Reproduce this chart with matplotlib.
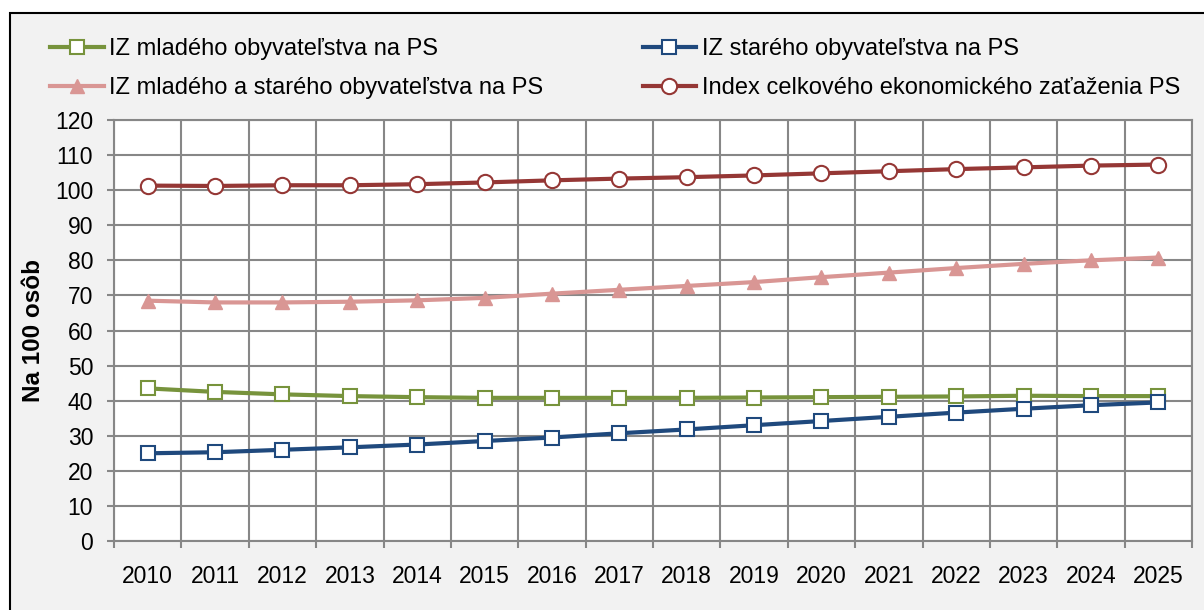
import matplotlib.pyplot as plt
from matplotlib.patches import Rectangle
from matplotlib.ticker import MultipleLocator, FixedLocator

plt.rcParams['font.family'] = ['Liberation Sans', 'DejaVu Sans']

roky = [str(r) for r in range(2010, 2026)]

iz_mlade = [43.5, 42.5, 41.8, 41.3, 41.0, 40.8, 40.8, 40.8, 40.8, 40.9, 41.0, 41.1, 41.2, 41.4, 41.3, 41.3]
iz_stare = [25.0, 25.3, 26.0, 26.7, 27.5, 28.5, 29.5, 30.7, 31.8, 33.0, 34.2, 35.4, 36.6, 37.7, 38.7, 39.5]
iz_spolu = [68.5, 68.0, 68.0, 68.2, 68.6, 69.3, 70.5, 71.6, 72.7, 73.8, 75.2, 76.5, 77.8, 79.0, 80.0, 80.8]
index_celk = [101.3, 101.2, 101.4, 101.4, 101.7, 102.2, 102.8, 103.3, 103.7, 104.2, 104.8, 105.4, 106.0, 106.5, 107.0, 107.3]

fig = plt.figure(figsize=(12.04, 6.10), dpi=100)
fig.patch.set_facecolor('white')
# sivy ramcek grafu
fig.patches.append(Rectangle((10 / 1204, -0.1), 1.1, 1.1 - 13 / 610,
                             transform=fig.transFigure, facecolor='#f2f2f2',
                             edgecolor='black', linewidth=1.5, zorder=-10))

ax = fig.add_axes([114 / 1204, 1 - 541 / 610, (1192 - 114) / 1204, (541 - 120) / 610])
ax.set_facecolor('white')

x = range(len(roky))
ax.plot(x, iz_mlade, color='#77933c', lw=3, marker='s', ms=10, mfc='white',
        mec='#77933c', mew=1.5, label='IZ mladého obyvateľstva na PS', zorder=3)
ax.plot(x, iz_spolu, color='#d99694', lw=3, marker='^', ms=10, mfc='#d99694',
        mec='#d99694', label='IZ mladého a starého obyvateľstva na PS', zorder=3)
ax.plot(x, iz_stare, color='#1f497d', lw=3, marker='s', ms=10, mfc='white',
        mec='#1f497d', mew=1.5, label='IZ starého obyvateľstva na PS', zorder=3)
ax.plot(x, index_celk, color='#953735', lw=3, marker='o', ms=11, mfc='white',
        mec='#953735', mew=1.5, label='Index celkového ekonomického zaťaženia PS', zorder=4)

ax.set_xlim(-0.5, 15.5)
ax.set_ylim(0, 120)
ax.yaxis.set_major_locator(MultipleLocator(10))
ax.set_xticks(list(x))
ax.set_xticklabels(roky)
ax.xaxis.set_minor_locator(FixedLocator([i - 0.5 for i in range(17)]))

ax.grid(True, which='major', axis='y', color='#878787', lw=1.5)
ax.grid(True, which='minor', axis='x', color='#878787', lw=1.5)
ax.set_axisbelow(True)

ax.tick_params(axis='x', which='major', length=0, pad=17, labelsize=16.5)
ax.tick_params(axis='x', which='minor', length=5, width=1.5, color='#878787')
ax.tick_params(axis='y', length=5, width=1.5, color='#878787', pad=10, labelsize=16.5)
for s in ax.spines.values():
    s.set_color('#878787')
    s.set_linewidth(1.5)

ax.set_ylabel('Na 100 osôb', fontsize=17.5, fontweight='bold')
ax.yaxis.set_label_coords(-0.064, 0.5)

fig.legend(loc='upper left', bbox_to_anchor=(41 / 1204, 1 - 29 / 610), ncol=2,
           frameon=False, fontsize=17, handlelength=2.25, handletextpad=0.25,
           columnspacing=4.2, labelspacing=0.7, borderaxespad=0)

fig.savefig('out.png', dpi=100)
